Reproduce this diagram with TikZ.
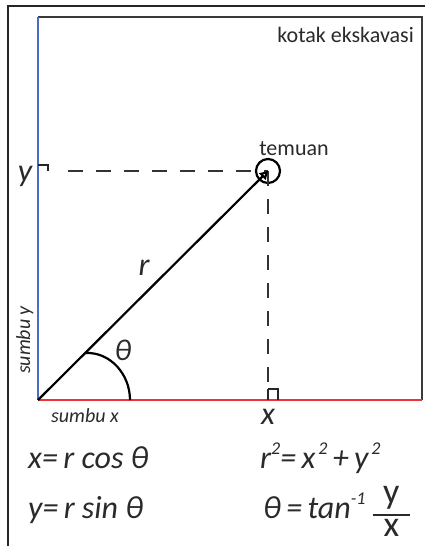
\documentclass[tikz,border=0pt]{standalone}
\usepackage{fontspec}
\setmainfont{Carlito}
\usetikzlibrary{arrows.meta}
\definecolor{axblue}{HTML}{4A6CC8}
\definecolor{axred}{HTML}{E8343A}
\definecolor{boxgray}{HTML}{3A3A3A}
\definecolor{txtgray}{HTML}{2A2A2A}
\newcommand{\supr}[1]{\raisebox{0.42em}{\fontsize{18}{18}\selectfont #1}}
\begin{document}
\begin{tikzpicture}[x=1pt,y=-1pt,
  lbl/.style={inner sep=0pt, text=txtgray},
  big/.style={lbl, font=\fontsize{32}{34}\selectfont\itshape},
  small/.style={lbl, font=\fontsize{20}{22}\selectfont\itshape},
  plain/.style={lbl, font=\fontsize{22}{24}\selectfont},
  dashline/.style={line width=1.6pt, black!80, dash pattern=on 15pt off 13pt},
  rightmark/.style={line width=1.5pt, black!85},
  frame/.style={line width=2.2pt}]
\useasboundingbox (0,0) rectangle (425,546);
\fill[white] (0,0) rectangle (425,546);
% outer frame
\coordinate (FB) at (8,546);
\coordinate (FT) at (8,6);
\coordinate (FR) at (425,6);
\draw[line width=1.8pt, black!85] (FB) -- (FT) -- (FR);
% inner excavation box
\coordinate (O) at (38,400);
\coordinate (TL) at (38,17);
\coordinate (TR) at (422,17);
\coordinate (BR) at (422,400);
\draw[frame, boxgray] (TL) -- (TR) -- (BR);
\draw[frame, axblue] (O) -- (TL);
\draw[frame, axred] (O) -- (BR);
% find
\node[circle, draw, line width=2.2pt, minimum size=24pt, inner sep=0pt] (F) at (268,171) {};
\coordinate (Y) at (38,171);
\coordinate (X) at (268,400);
% dashed projections
\draw[dashline, shorten <=30pt] (Y) -- (F.center);
\draw[dashline, shorten >=12pt] (F.center) -- (X);
% right angle marks
\draw[rightmark] (Y) ++(0,-6) -- ++(10,0) -- ++(0,6);
\draw[rightmark] (X) ++(0,-11) -- ++(10,0) -- ++(0,11);
\draw[rightmark] (X) -- ++(0,-11);
% radius vector
\draw[line width=2.2pt, black, -{Triangle[open, length=8pt, width=9pt]}] (O) -- (F.center);
% angle arc
\coordinate (A1) at (130,400);
\coordinate (A2) at (86,353);
\draw[line width=2.2pt] (A1) .. controls (130,374) and (110,352) .. (A2);
% labels
\node[plain, anchor=base east] (kotak) at (414,42) {kotak ekskavasi};
\node[plain, anchor=base] (temuan) at (294,155) {temuan};
\node[big, anchor=base] (ylab) at (25,181) {y};
\node[big, anchor=base] (xlab) at (268,424) {x};
\node[big] (rlab) at (144,268) {r};
\node[lbl, font=\fontsize{30}{32}\selectfont\itshape] (th) at (123,350) {θ};
\node[small, anchor=base] (sx) at (85,422) {sumbu x};
\node[small, anchor=base, rotate=90] (sy) at (30,340) {sumbu y};
% formulas
\node[big, anchor=base west] (f1) at (28,468) {x=\,r cos θ};
\node[big, anchor=base west] (f2) at (28,518) {y=\,r sin θ};
\node[big, anchor=base west] (f3) at (260,468) {r\supr{2}=\,x\supr{\,2}\,+\,y\supr{\,2}};
\node[big, anchor=base west] (f4) at (263,518) {θ\,=\,tan\supr{\itshape -1}\hspace{7pt}\raisebox{0pt}{\upshape$\vcenter{\halign{\hfil#\hfil\cr\fontsize{36}{36}\selectfont y\cr\noalign{\vskip4pt\hrule height 2pt\vskip4pt}\fontsize{36}{36}\selectfont\hspace{11pt}x\hspace{11pt}\cr}}$}};
\end{tikzpicture}
\end{document}
